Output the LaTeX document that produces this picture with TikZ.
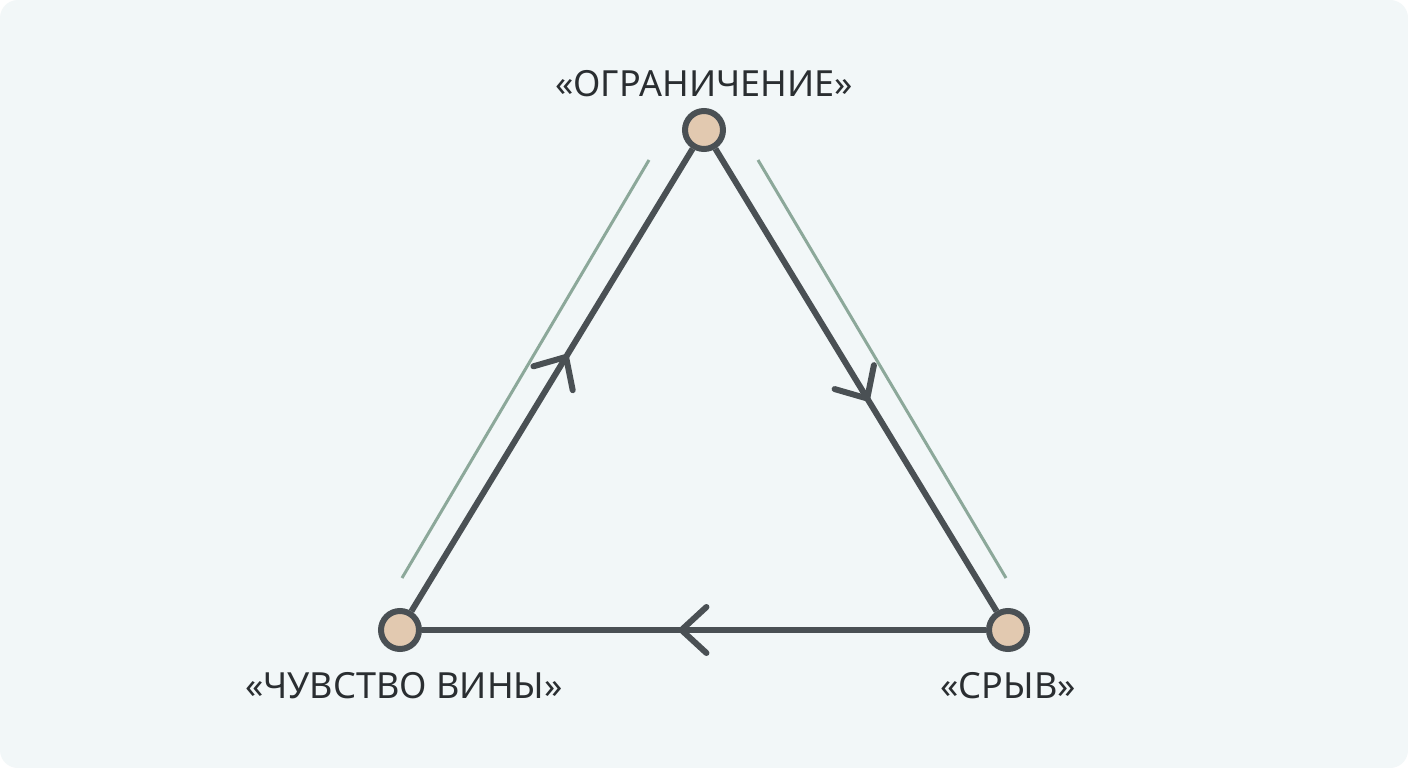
\documentclass[tikz,border=0pt]{standalone}
\usepackage{fontspec}
\setmainfont{Noto Sans}
\usetikzlibrary{decorations.markings}
\definecolor{bgc}{HTML}{F2F7F8}
\definecolor{edgec}{HTML}{4A5054}
\definecolor{nodefill}{HTML}{E2C9B0}
\definecolor{guide}{HTML}{8CA89A}
\definecolor{txt}{HTML}{2A2E31}
\begin{document}
\begin{tikzpicture}[x=1pt,y=-1pt,
  vert/.style={circle,draw=edgec,fill=nodefill,line width=6pt,minimum size=38pt,inner sep=0pt},
  lbl/.style={text=txt,font=\fontsize{36}{42}\selectfont,inner sep=0pt},
  chev/.style={line width=6pt,draw=edgec,line cap=round,line join=round},
  edge/.style={draw=edgec,line width=6pt,postaction={decorate},
    decoration={markings,mark=at position #1 with {\draw[chev] (-25pt,23pt) -- (0pt,0pt) -- (-25pt,-23pt);}}},
  guideline/.style={draw=guide,line width=3pt}]
\useasboundingbox (0,0) rectangle (1408,768);
\fill[white] (0,0) rectangle (1408,768);
\fill[bgc,rounded corners=18pt] (0,0) rectangle (1408,768);
% guide lines
\coordinate (gl1) at (402,578);
\coordinate (gl2) at (649,160);
\coordinate (gr1) at (758,160);
\coordinate (gr2) at (1006,578);
\draw[guideline] (gl1) -- (gl2);
\draw[guideline] (gr1) -- (gr2);
% vertices
\node[vert] (top) at (704,130) {};
\node[vert] (bl) at (400,630) {};
\node[vert] (br) at (1008,630) {};
% edges
\draw[edge=0.55] (bl) -- (top);
\draw[edge=0.54] (top) -- (br);
\draw[edge=0.54] (br) -- (bl);
% labels
\node[lbl] (ltop) at (704,84) {«ОГРАНИЧЕНИЕ»};
\node[lbl] (lbl) at (404,686) {«ЧУВСТВО ВИНЫ»};
\node[lbl] (lbr) at (1008,686) {«СРЫВ»};
\end{tikzpicture}
\end{document}
